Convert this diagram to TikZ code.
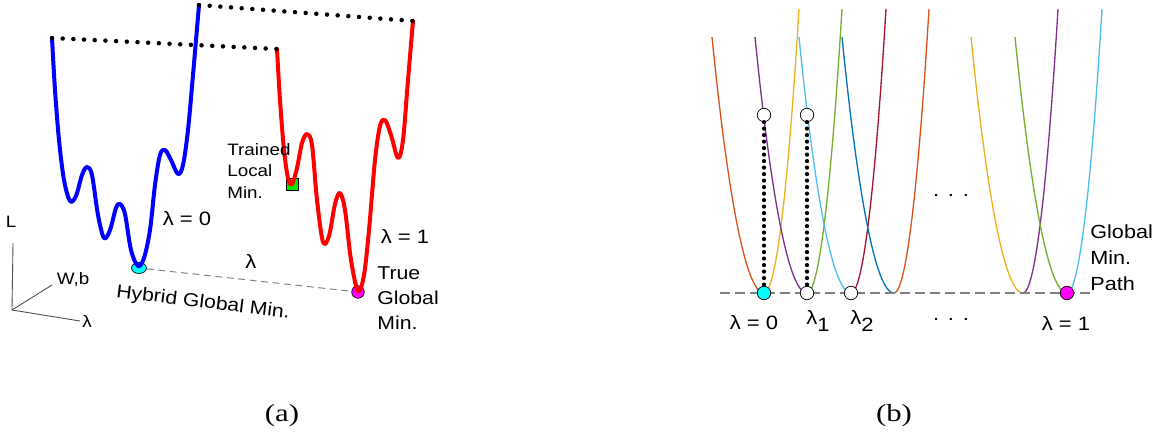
\documentclass[tikz,border=0pt]{standalone}
\usepackage{fontspec}
\setmainfont{Liberation Serif}[FakeStretch=1.25]
\setsansfont{Liberation Sans}[FakeStretch=1.14]
\usetikzlibrary{shapes.geometric}
\definecolor{mlblue}{rgb}{0,0.447,0.741}
\definecolor{mlorange}{rgb}{0.85,0.325,0.098}
\definecolor{mlyellow}{rgb}{0.929,0.694,0.125}
\definecolor{mlpurple}{rgb}{0.494,0.184,0.556}
\definecolor{mlgreen}{rgb}{0.466,0.674,0.188}
\definecolor{mllightblue}{rgb}{0.301,0.745,0.933}
\definecolor{mldarkred}{rgb}{0.635,0.078,0.184}
\definecolor{pathgray}{HTML}{808080}
\definecolor{mincyan}{rgb}{0,1,1}
\definecolor{minmagenta}{rgb}{1,0,1}
\definecolor{mingreen}{rgb}{0,0.9,0}
\definecolor{curveblue}{rgb}{0,0,1}
\definecolor{curvered}{rgb}{1,0,0}

\begin{document}
\begin{tikzpicture}[x=0.02cm,y=-0.02cm,font=\sffamily,
    lbl/.style={inner sep=0pt,align=left,font=\sffamily\fontsize{10.6}{14.2}\selectfont},
    smalllbl/.style={inner sep=0pt,align=left,font=\sffamily\fontsize{9.4}{12.5}\selectfont},
    lamlbl/.style={inner sep=0pt,font=\sffamily\fontsize{11}{13}\selectfont},
    caption/.style={inner sep=0pt,font=\rmfamily\fontsize{14}{16}\selectfont},
    landscape/.style={line width=0.8mm,line join=round,line cap=round},
    bowl/.style={line width=0.75pt},
    axisline/.style={line width=0.5pt,draw=black!70},
    topdots/.style={line width=0.9mm,line cap=round,dash pattern=on 0pt off 2.14mm},
    pathdots/.style={line width=0.85mm,line cap=round,dash pattern=on 0pt off 1.3mm},
    marker/.style={draw=black,line width=0.4pt,inner sep=0pt},
    minpt/.style={circle,draw=black,line width=0.4pt,minimum size=2.7mm,inner sep=0pt}]
\useasboundingbox (0,0) rectangle (1163,436);

% (a) the two loss landscapes
\coordinate (blueL) at (52,38);
\coordinate (blueR) at (199,5);
\coordinate (redL) at (277,49);
\coordinate (redR) at (413,21);
\node[marker,ellipse,fill=mincyan,minimum width=3mm,minimum height=2.2mm] (hybrid) at (139,268) {};
\node[marker,rectangle,fill=mingreen,minimum size=2.4mm] (trained) at (292,184) {};
\node[marker,circle,fill=minmagenta,minimum size=2.5mm] (truemin) at (358,292) {};
\draw[landscape,curveblue] plot[smooth,tension=0.55] coordinates {(blueL) (55,90) (59,140) (64,180) (70,201) (76,196) (82,175) (87,167) (92,175) (98,215) (104,238) (110,230) (116,208) (120,204) (125,214) (131,250) (138,266) (144,258) (150,230) (155,185) (160,155) (165,150) (171,160) (178,174) (183,165) (188,130) (193,75) (blueR)};
\draw[landscape,curvered] plot[smooth,tension=0.55] coordinates {(redL) (280,100) (284,150) (288,178) (292,184) (297,168) (302,143) (307,134) (312,145) (317,200) (323,242) (329,236) (335,204) (340,193) (345,210) (351,260) (358,291) (364,275) (369,230) (375,160) (380,126) (385,120) (391,135) (398,158) (403,140) (408,80) (redR)};
\draw[topdots] (blueL) -- (redL);
\draw[topdots] (blueR) -- (redR);
\draw[pathgray,line width=0.55pt,dash pattern=on 1.4mm off 0.9mm] (hybrid) -- (truemin);

% axes
\coordinate (ax0) at (12,310);
\coordinate (axL) at (13,243);
\coordinate (axW) at (52,285);
\coordinate (axlam) at (80,321);
\draw[axisline] (ax0) -- (axL);
\draw[axisline] (ax0) -- (axW);
\draw[axisline] (ax0) -- (axlam);
\node[smalllbl] (Llbl) at (11,222) {L};
\node[smalllbl] (Wblbl) at (73,280) {W,b};
\node[smalllbl] (axlamlbl) at (87,322) {λ};

\node[lamlbl] (lamzero) at (187,219) {λ = 0};
\node[lamlbl] (lamone) at (405,236) {λ = 1};
\node[lamlbl] (lammid) at (251,261) {λ};
\node[smalllbl,anchor=west] (trainedlbl) at (227,171) {Trained\\Local\\Min.};
\node[lbl,anchor=west] (truelbl) at (377,298) {True\\Global\\Min.};
\node[lbl,rotate=-7] (hybridlbl) at (203,303) {Hybrid Global Min.};
\node[caption] (capa) at (282,416) {(a)};

% (b) the family of bowls along lambda
\foreach \vx/\lc/\rc in {764/mlorange/mlyellow,807/mlpurple/mlgreen,851/mllightblue/mldarkred,
    894/mlblue/mlorange,1023/mlyellow/mlpurple,1067/mlgreen/mllightblue}{
  \draw[bowl,\lc] (\vx,293) parabola (\vx-52,37);
  \draw[bowl,\rc] (\vx,293) parabola (\vx+35,9);
}
\coordinate (pathL) at (720,293);
\coordinate (pathR) at (1090,293);
\draw[pathgray,line width=1.1pt,dash pattern=on 2mm off 1mm] (pathL) -- (pathR);
\node[minpt,fill=mincyan] (p0) at (764,293) {};
\node[minpt,fill=white] (p1) at (807,293) {};
\node[minpt,fill=white] (p2) at (851,293) {};
\node[minpt,fill=minmagenta] (p3) at (1067,293) {};
\node[minpt,fill=white] (u0) at (764,115) {};
\node[minpt,fill=white] (u1) at (807,115) {};
\draw[pathdots] (u0) -- (p0);
\draw[pathdots] (u1) -- (p1);

\node[lamlbl] (blzero) at (754,323) {λ = 0};
\node[lamlbl] (blone) at (818,321) {λ\raisebox{-0.6ex}{1}};
\node[lamlbl] (bltwo) at (862,321) {λ\raisebox{-0.6ex}{2}};
\node[lamlbl] (blend) at (1066,323) {λ = 1};
\node[lamlbl,anchor=base] (dotsup) at (951,196) {.\hspace{5pt}.\hspace{5pt}.};
\node[lamlbl,anchor=base] (dotsdown) at (951,320) {.\hspace{5pt}.\hspace{5pt}.};
\node[lbl,anchor=west,font=\sffamily\fontsize{10.8}{14.7}\selectfont] (pathlbl) at (1090,258) {Global\\Min.\\Path};
\node[caption] (capb) at (894,416) {(b)};
\end{tikzpicture}
\end{document}
